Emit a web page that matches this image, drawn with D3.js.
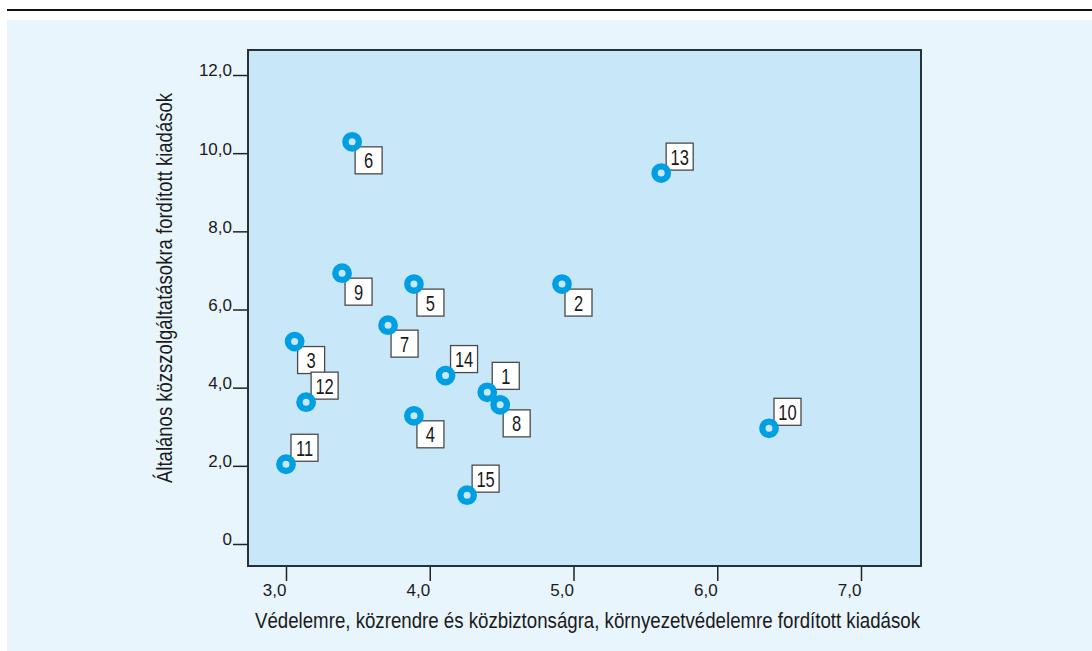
<!DOCTYPE html>
<meta charset="utf-8">
<title>Kiadások szórásdiagram</title>
<style>
body { margin:0; background:#ffffff; }
text { font-family: "Liberation Sans", Arial, sans-serif; fill:#1a1a1a; }
.axis path.domain { display:none; }
.axis line { stroke:#222; stroke-width:1.5; }
.lbl rect { fill:#ffffff; stroke:#4a4a4a; stroke-width:1.3; }
</style>
<body>
<script src="https://d3js.org/d3.v7.min.js"></script>
<script>

// data (x: vedelem/kozrend/kornyezet, y: altalanos kozszolg.)
var ids  = [1, 2, 3, 4, 5, 6, 7, 8, 9, 10, 11, 12, 13, 14, 15];
var xVal = [4.40, 4.92, 3.06, 3.89, 3.89, 3.46, 3.71, 4.49, 3.39, 6.36, 3.00, 3.14, 5.61, 4.11, 4.26];
var yVal = [3.88, 6.65, 5.18, 3.28, 6.65, 10.29, 5.60, 3.56, 6.93, 2.96, 2.04, 3.63, 9.49, 4.31, 1.25];
var xTicks = [3, 4, 5, 6, 7];
var yTicks = [0, 2, 4, 6, 8, 10, 12];
var xTitle = "Védelemre, közrendre és közbiztonságra, környezetvédelemre fordított kiadások";
var yTitle = "Általános közszolgáltatásokra fordított kiadások";

// which side of the point the number box sits on
var labelAbove = {1:true, 10:true, 11:true, 12:true, 13:true, 14:true, 15:true};

var width = 1092, height = 651;
var plot = {left:248, top:50, right:921, bottom:566};

var svg = d3.select("body").append("svg")
    .attr("width", width)
    .attr("height", height);

// page frame
svg.append("line")
    .attr("x1", 7).attr("x2", width)
    .attr("y1", 10).attr("y2", 10)
    .attr("stroke", "#111").attr("stroke-width", 2);
svg.append("rect")
    .attr("x", 7).attr("y", 20)
    .attr("width", width - 7).attr("height", height - 20)
    .attr("fill", "#e9f5fc");

var x = d3.scaleLinear()
    .domain([2.7357, 7.4174])
    .range([plot.left, plot.right]);
var y = d3.scaleLinear()
    .domain([-0.563, 12.64])
    .range([plot.bottom, plot.top]);

var fmt = function(d) { return d === 0 ? "0" : d3.format(".1f")(d).replace(".", ","); };

svg.append("rect")
    .attr("x", plot.left).attr("y", plot.top)
    .attr("width", plot.right - plot.left)
    .attr("height", plot.bottom - plot.top)
    .attr("fill", "#c8e7f8")
    .attr("stroke", "#263238")
    .attr("stroke-width", 2);

var gy = svg.append("g")
    .attr("class", "axis")
    .attr("transform", "translate(" + (plot.left - 1) + ",0)")
    .call(d3.axisLeft(y).tickValues(yTicks).tickFormat(fmt).tickSize(14).tickPadding(1));
gy.selectAll("text")
    .attr("dy", "0.05em")
    .style("font-size", "17px");

var gx = svg.append("g")
    .attr("class", "axis")
    .attr("transform", "translate(0," + (plot.bottom + 1) + ")")
    .call(d3.axisBottom(x).tickValues(xTicks).tickFormat(fmt).tickSize(14).tickPadding(3));
gx.selectAll("text")
    .attr("text-anchor", "end")
    .attr("x", 0)
    .style("font-size", "17px");

// axis titles
svg.append("text")
    .attr("x", (255 + 920) / 2)
    .attr("y", 628)
    .attr("text-anchor", "middle")
    .attr("textLength", 665)
    .attr("lengthAdjust", "spacingAndGlyphs")
    .style("font-size", "22px")
    .text(xTitle);

svg.append("text")
    .attr("transform", "translate(172,288) rotate(-90)")
    .attr("text-anchor", "middle")
    .attr("textLength", 390)
    .attr("lengthAdjust", "spacingAndGlyphs")
    .style("font-size", "22px")
    .text(yTitle);

var pts = ids.map(function(id, i) { return {id:id, x:xVal[i], y:yVal[i]}; });

// number boxes
var box = 27;
var lbl = svg.append("g").selectAll("g")
    .data(pts)
    .enter().append("g")
    .attr("class", "lbl")
    .attr("transform", function(d) {
        var bx = x(d.x) + (labelAbove[d.id] ? 5 : 3);
        var by = labelAbove[d.id] ? y(d.y) - 3 - box : y(d.y) + 5;
        return "translate(" + bx + "," + by + ")";
    });
lbl.append("rect")
    .attr("width", box).attr("height", box);
lbl.append("text")
    .attr("transform", "translate(" + (box / 2) + "," + (box / 2 + 8) + ") scale(0.75,1)")
    .attr("text-anchor", "middle")
    .style("font-size", "22px")
    .text(function(d) { return d.id; });

// rings
svg.append("g").selectAll("circle")
    .data(pts)
    .enter().append("circle")
    .attr("cx", function(d) { return x(d.x); })
    .attr("cy", function(d) { return y(d.y); })
    .attr("r", 6.7)
    .attr("fill", "#c8e7f8")
    .attr("stroke", "#009fe3")
    .attr("stroke-width", 6.4);

</script>
